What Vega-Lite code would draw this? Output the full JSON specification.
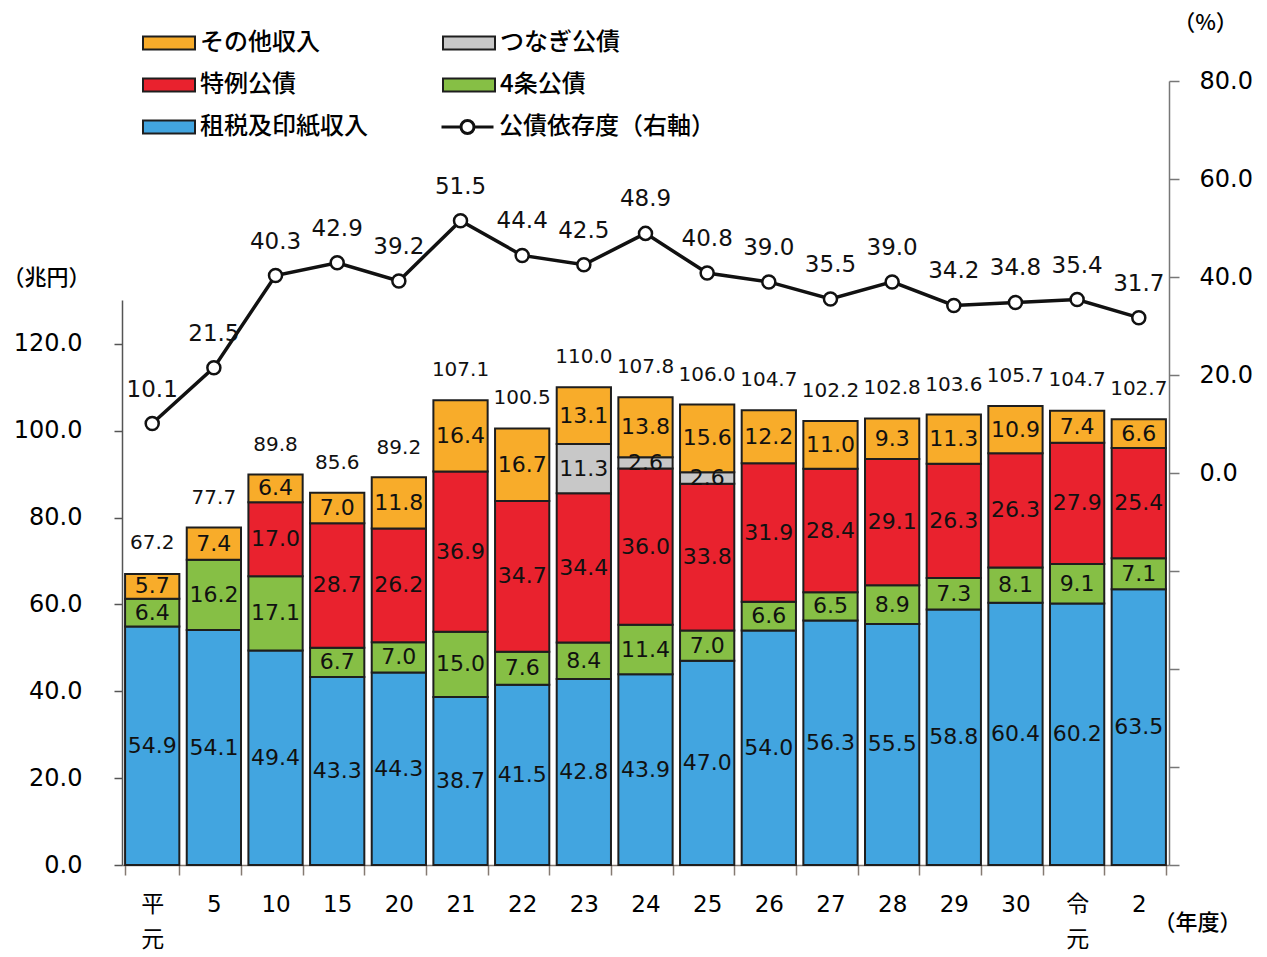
{
  "$schema": "https://vega.github.io/schema/vega-lite/v6.json",
  "autosize": "none",
  "width": 1047,
  "height": 784,
  "padding": {"left": 122, "top": 81, "right": 98, "bottom": 92},
  "background": "white",
  "config": {
    "view": {"stroke": null},
    "font": "Noto Sans CJK JP",
    "axis": {"grid": false}
  },
  "datasets": {
    "parts": [
      {"year": "平元", "item": "租税及印紙収入", "value": 54.9},
      {"year": "平元", "item": "4条公債", "value": 6.4},
      {"year": "平元", "item": "その他収入", "value": 5.7},
      {"year": "5", "item": "租税及印紙収入", "value": 54.1},
      {"year": "5", "item": "4条公債", "value": 16.2},
      {"year": "5", "item": "その他収入", "value": 7.4},
      {"year": "10", "item": "租税及印紙収入", "value": 49.4},
      {"year": "10", "item": "4条公債", "value": 17.1},
      {"year": "10", "item": "特例公債", "value": 17.0},
      {"year": "10", "item": "その他収入", "value": 6.4},
      {"year": "15", "item": "租税及印紙収入", "value": 43.3},
      {"year": "15", "item": "4条公債", "value": 6.7},
      {"year": "15", "item": "特例公債", "value": 28.7},
      {"year": "15", "item": "その他収入", "value": 7.0},
      {"year": "20", "item": "租税及印紙収入", "value": 44.3},
      {"year": "20", "item": "4条公債", "value": 7.0},
      {"year": "20", "item": "特例公債", "value": 26.2},
      {"year": "20", "item": "その他収入", "value": 11.8},
      {"year": "21", "item": "租税及印紙収入", "value": 38.7},
      {"year": "21", "item": "4条公債", "value": 15.0},
      {"year": "21", "item": "特例公債", "value": 36.9},
      {"year": "21", "item": "その他収入", "value": 16.4},
      {"year": "22", "item": "租税及印紙収入", "value": 41.5},
      {"year": "22", "item": "4条公債", "value": 7.6},
      {"year": "22", "item": "特例公債", "value": 34.7},
      {"year": "22", "item": "その他収入", "value": 16.7},
      {"year": "23", "item": "租税及印紙収入", "value": 42.8},
      {"year": "23", "item": "4条公債", "value": 8.4},
      {"year": "23", "item": "特例公債", "value": 34.4},
      {"year": "23", "item": "つなぎ公債", "value": 11.3},
      {"year": "23", "item": "その他収入", "value": 13.1},
      {"year": "24", "item": "租税及印紙収入", "value": 43.9},
      {"year": "24", "item": "4条公債", "value": 11.4},
      {"year": "24", "item": "特例公債", "value": 36.0},
      {"year": "24", "item": "つなぎ公債", "value": 2.6},
      {"year": "24", "item": "その他収入", "value": 13.8},
      {"year": "25", "item": "租税及印紙収入", "value": 47.0},
      {"year": "25", "item": "4条公債", "value": 7.0},
      {"year": "25", "item": "特例公債", "value": 33.8},
      {"year": "25", "item": "つなぎ公債", "value": 2.6},
      {"year": "25", "item": "その他収入", "value": 15.6},
      {"year": "26", "item": "租税及印紙収入", "value": 54.0},
      {"year": "26", "item": "4条公債", "value": 6.6},
      {"year": "26", "item": "特例公債", "value": 31.9},
      {"year": "26", "item": "その他収入", "value": 12.2},
      {"year": "27", "item": "租税及印紙収入", "value": 56.3},
      {"year": "27", "item": "4条公債", "value": 6.5},
      {"year": "27", "item": "特例公債", "value": 28.4},
      {"year": "27", "item": "その他収入", "value": 11.0},
      {"year": "28", "item": "租税及印紙収入", "value": 55.5},
      {"year": "28", "item": "4条公債", "value": 8.9},
      {"year": "28", "item": "特例公債", "value": 29.1},
      {"year": "28", "item": "その他収入", "value": 9.3},
      {"year": "29", "item": "租税及印紙収入", "value": 58.8},
      {"year": "29", "item": "4条公債", "value": 7.3},
      {"year": "29", "item": "特例公債", "value": 26.3},
      {"year": "29", "item": "その他収入", "value": 11.3},
      {"year": "30", "item": "租税及印紙収入", "value": 60.4},
      {"year": "30", "item": "4条公債", "value": 8.1},
      {"year": "30", "item": "特例公債", "value": 26.3},
      {"year": "30", "item": "その他収入", "value": 10.9},
      {"year": "令元", "item": "租税及印紙収入", "value": 60.2},
      {"year": "令元", "item": "4条公債", "value": 9.1},
      {"year": "令元", "item": "特例公債", "value": 27.9},
      {"year": "令元", "item": "その他収入", "value": 7.4},
      {"year": "2", "item": "租税及印紙収入", "value": 63.5},
      {"year": "2", "item": "4条公債", "value": 7.1},
      {"year": "2", "item": "特例公債", "value": 25.4},
      {"year": "2", "item": "その他収入", "value": 6.6}
    ],
    "summary": [
      {"year": "平元", "total": 67.2, "ratio": 10.1},
      {"year": "5", "total": 77.7, "ratio": 21.5},
      {"year": "10", "total": 89.8, "ratio": 40.3},
      {"year": "15", "total": 85.6, "ratio": 42.9},
      {"year": "20", "total": 89.2, "ratio": 39.2},
      {"year": "21", "total": 107.1, "ratio": 51.5},
      {"year": "22", "total": 100.5, "ratio": 44.4},
      {"year": "23", "total": 110.0, "ratio": 42.5},
      {"year": "24", "total": 107.8, "ratio": 48.9},
      {"year": "25", "total": 106.0, "ratio": 40.8},
      {"year": "26", "total": 104.7, "ratio": 39.0},
      {"year": "27", "total": 102.2, "ratio": 35.5},
      {"year": "28", "total": 102.8, "ratio": 39.0},
      {"year": "29", "total": 103.6, "ratio": 34.2},
      {"year": "30", "total": 105.7, "ratio": 34.8},
      {"year": "令元", "total": 104.7, "ratio": 35.4},
      {"year": "2", "total": 102.7, "ratio": 31.7}
    ]
  },
  "encoding": {
    "x": {
      "field": "year",
      "type": "nominal",
      "sort": ["平元", "5", "10", "15", "20", "21", "22", "23", "24", "25", "26", "27", "28", "29", "30", "令元", "2"],
      "scale": {"paddingInner": 0.12, "paddingOuter": 0.05},
      "axis": {
        "title": "（年度）",
        "titleAngle": 0,
        "titleX": 1075,
        "titleY": 57,
        "titleAlign": "center",
        "titleBaseline": "middle",
        "titleFont": "Noto Sans CJK JP",
        "titleFontSize": 22,
        "titleFontWeight": 500,
        "titleColor": "#000",
        "labelAngle": 0,
        "labelFont": "DejaVu Sans, Noto Sans CJK JP",
        "labelFontSize": 23,
        "labelColor": "#000",
        "labelBaseline": "top",
        "labelPadding": 18,
        "labelLineHeight": 35,
        "labelOverlap": false,
        "labelExpr": "datum.label == '平元' ? ['平', '元'] : datum.label == '令元' ? ['令', '元'] : datum.label",
        "tickBand": "extent",
        "tickSize": 10,
        "tickWidth": 1.5,
        "tickColor": "#857a72",
        "domainColor": "#857a72",
        "domainWidth": 1.5
      }
    }
  },
  "layer": [
    {
      "layer": [
        {
          "data": {"name": "parts"},
          "transform": [
            {"calculate": "indexof(['租税及印紙収入', '4条公債', '特例公債', 'つなぎ公債', 'その他収入'], datum.item)", "as": "k"}
          ],
          "mark": {"type": "bar", "stroke": "#1e1e1e", "strokeWidth": 2},
          "encoding": {
            "y": {
              "field": "value",
              "type": "quantitative",
              "stack": "zero",
              "scale": {"domain": [0, 180.5], "nice": false},
              "axis": {
                "title": "（兆円）",
                "titleAngle": 0,
                "titleX": -76,
                "titleY": 196,
                "titleAlign": "center",
                "titleBaseline": "middle",
                "titleFont": "Noto Sans CJK JP",
                "titleFontSize": 22,
                "titleFontWeight": 500,
                "titleColor": "#000",
                "values": [0, 20, 40, 60, 80, 100, 120],
                "format": ".1f",
                "labelFont": "DejaVu Sans",
                "labelFontSize": 24,
                "labelColor": "#000",
                "labelPadding": 32,
                "tickSize": 8,
                "tickWidth": 1.5,
                "tickColor": "#555",
                "domainColor": "#555",
                "domainWidth": 1.5,
                "domainDash": [565, 2000]
              }
            },
            "color": {
              "field": "item",
              "type": "nominal",
              "scale": {
                "domain": ["その他収入", "特例公債", "租税及印紙収入", "つなぎ公債", "4条公債"],
                "range": ["#f8ac2a", "#e9222e", "#42a5e0", "#c8c8c8", "#86bf45"]
              },
              "legend": {
                "orient": "none",
                "legendX": 20,
                "legendY": -51,
                "title": null,
                "columns": 2,
                "columnPadding": 74,
                "rowPadding": 16,
                "symbolType": "M-1,-0.25H1V0.25H-1Z",
                "symbolSize": 2704,
                "symbolStrokeWidth": 2,
                "symbolStrokeColor": "#1e1e1e",
                "symbolOpacity": 1,
                "labelFont": "Noto Sans CJK JP",
                "labelFontSize": 24,
                "labelFontWeight": 500,
                "labelColor": "#000",
                "labelOffset": 4,
                "labelLimit": 300,
                "clipHeight": 26,
                "encode": {"symbols": {"update": {"stroke": {"value": "#1e1e1e"}, "strokeWidth": {"value": 2}}}}
              }
            },
            "order": {"field": "k", "type": "quantitative"}
          }
        },
        {
          "data": {"name": "parts"},
          "transform": [
            {"calculate": "indexof(['租税及印紙収入', '4条公債', '特例公債', 'つなぎ公債', 'その他収入'], datum.item)", "as": "k"},
            {"stack": "value", "groupby": ["year"], "sort": [{"field": "k"}], "as": ["y0", "y1"]},
            {"calculate": "(datum.y0 + datum.y1) / 2", "as": "mid"}
          ],
          "mark": {"type": "text", "font": "DejaVu Sans", "fontSize": 22, "fill": "#111", "baseline": "middle"},
          "encoding": {
            "y": {"field": "mid", "type": "quantitative", "scale": {"domain": [0, 180.5], "nice": false}},
            "text": {"field": "value", "type": "quantitative", "format": ".1f"}
          }
        },
        {
          "data": {"name": "summary"},
          "mark": {"type": "text", "font": "DejaVu Sans", "fontSize": 20, "fill": "#111", "baseline": "middle", "dy": -30},
          "encoding": {
            "y": {"field": "total", "type": "quantitative", "scale": {"domain": [0, 180.5], "nice": false}},
            "text": {"field": "total", "type": "quantitative", "format": ".1f"}
          }
        }
      ]
    },
    {
      "layer": [
        {
          "data": {"name": "summary"},
          "mark": {"type": "line", "strokeWidth": 3.5},
          "encoding": {
            "y": {
              "field": "ratio",
              "type": "quantitative",
              "scale": {"domain": [-80, 80], "nice": false},
              "axis": {
                "orient": "right",
                "title": "（%）",
                "titleAngle": 0,
                "titleX": 36,
                "titleY": -59,
                "titleAlign": "center",
                "titleBaseline": "middle",
                "titleFont": "Noto Sans CJK JP",
                "titleFontSize": 22,
                "titleFontWeight": 500,
                "titleColor": "#000",
                "values": [-80, -60, -40, -20, 0, 20, 40, 60, 80],
                "labelExpr": "datum.value < 0 ? '' : format(datum.value, '.1f')",
                "labelFont": "DejaVu Sans",
                "labelFontSize": 24,
                "labelColor": "#000",
                "labelPadding": 20,
                "tickSize": 10,
                "tickWidth": 1.5,
                "tickColor": "#777",
                "domainColor": "#777",
                "domainWidth": 1.5
              }
            },
            "stroke": {
              "datum": "公債依存度（右軸）",
              "type": "nominal",
              "scale": {"range": ["#111"]},
              "legend": {
                "orient": "none",
                "legendX": 318,
                "legendY": 33,
                "title": null,
                "symbolType": "M-1,0H-0.25M0.25,0H1M0.25,0A0.25,0.25,0,1,1,-0.25,0A0.25,0.25,0,1,1,0.25,0Z",
                "symbolSize": 2704,
                "symbolStrokeWidth": 3,
                "symbolFillColor": "#fff",
                "labelFont": "Noto Sans CJK JP",
                "labelFontSize": 24,
                "labelFontWeight": 500,
                "labelColor": "#000",
                "labelOffset": 4,
                "labelLimit": 300,
                "clipHeight": 26,
                "encode": {"symbols": {"update": {"fill": {"value": "#fff"}, "stroke": {"value": "#111"}, "strokeWidth": {"value": 3}}}}
              }
            }
          }
        },
        {
          "data": {"name": "summary"},
          "mark": {"type": "point", "shape": "circle", "filled": true, "fill": "#fff", "stroke": "#111", "strokeWidth": 2.5, "size": 170, "opacity": 1},
          "encoding": {
            "y": {"field": "ratio", "type": "quantitative", "scale": {"domain": [-80, 80], "nice": false}}
          }
        },
        {
          "data": {"name": "summary"},
          "mark": {"type": "text", "font": "DejaVu Sans", "fontSize": 23, "fill": "#111", "baseline": "middle", "dy": -34},
          "encoding": {
            "y": {"field": "ratio", "type": "quantitative", "scale": {"domain": [-80, 80], "nice": false}},
            "text": {"field": "ratio", "type": "quantitative", "format": ".1f"}
          }
        }
      ]
    }
  ],
  "resolve": {"scale": {"y": "independent"}}
}
